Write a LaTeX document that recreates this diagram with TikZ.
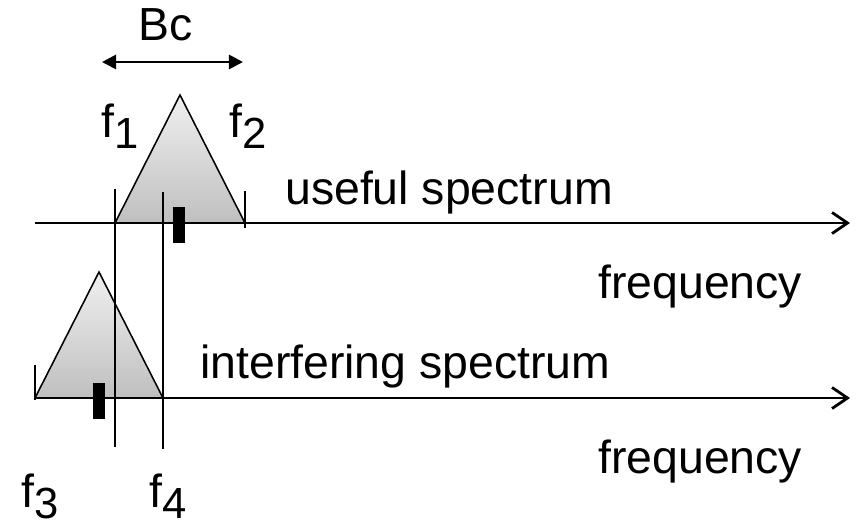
\documentclass[tikz,border=0pt]{standalone}
\usepackage{fontspec}
\setmainfont{Liberation Sans}
\usetikzlibrary{arrows.meta}
\newcommand{\fsub}[1]{f\raisebox{-0.25em}{\fontsize{31}{34}\selectfont #1}}

\begin{document}
\begin{tikzpicture}[
  x=0.025cm, y=-0.025cm,
  every node/.style={font=\fontsize{33}{38}\selectfont, inner sep=0pt, anchor=base west},
  axis/.style={line width=1.4pt, -{Straight Barb[length=11pt, width=15pt, line width=2pt]}},
  band/.style={line width=1.1pt, top color=black!6, bottom color=black!25, line join=miter},
  mark line/.style={line width=1pt},
  carrier/.style={fill=black, minimum width=0.3cm, minimum height=0.9cm, anchor=center},
  bw/.style={line width=2pt, {Triangle[length=10pt, width=10pt]}-{Triangle[length=10pt, width=10pt]}},
  flab/.style={font=\fontsize{33}{38}\selectfont}
]
  \useasboundingbox (0,0) rectangle (864,527);

  % Useful spectrum
  \coordinate (ua) at (115,223);
  \coordinate (ub) at (180,95);
  \coordinate (uc) at (245,223);
  \draw[band] (ua) -- (ub) -- (uc) -- cycle;

  % Interfering spectrum
  \coordinate (ia) at (35,398);
  \coordinate (ib) at (99,272);
  \coordinate (ic) at (163,398);
  \draw[band] (ia) -- (ib) -- (ic) -- cycle;

  % Frequency axes
  \coordinate (u0) at (35,223);
  \coordinate (u1) at (850,223);
  \draw[axis] (u0) -- (u1);
  \coordinate (i0) at (35,398);
  \coordinate (i1) at (850,398);
  \draw[axis] (i0) -- (i1);

  % Band edges
  \coordinate (e1t) at (115,189);
  \coordinate (e1b) at (115,447);
  \draw[mark line] (e1t) -- (e1b);
  \coordinate (e4t) at (163,192);
  \coordinate (e4b) at (163,449);
  \draw[mark line] (e4t) -- (e4b);
  \coordinate (e2t) at (245,191);
  \coordinate (e2b) at (245,228);
  \draw[mark line] (e2t) -- (e2b);
  \coordinate (e3t) at (35,365);
  \coordinate (e3b) at (35,400);
  \draw[mark line] (e3t) -- (e3b);

  % Carriers
  \node[carrier] (cu) at (179,225) {};
  \node[carrier] (ci) at (99,401) {};

  % Bandwidth
  \coordinate (bcl) at (102,62);
  \coordinate (bcr) at (243,62);
  \draw[bw] (bcl) -- (bcr);
  \node[anchor=base] (bc) at (166,40) {Bc};

  % Edge labels
  \node[flab] (f1) at (101,137) {\fsub{1}};
  \node[flab] (f2) at (229,137) {\fsub{2}};
  \node[flab] (f3) at (21,507) {\fsub{3}};
  \node[flab] (f4) at (149,507) {\fsub{4}};

  % Texts
  \node (useful) at (285,204) {useful spectrum};
  \node (fqu) at (598,298) {frequency};
  \node (interf) at (200,378) {interfering spectrum};
  \node (fqi) at (598,473) {frequency};
\end{tikzpicture}
\end{document}
